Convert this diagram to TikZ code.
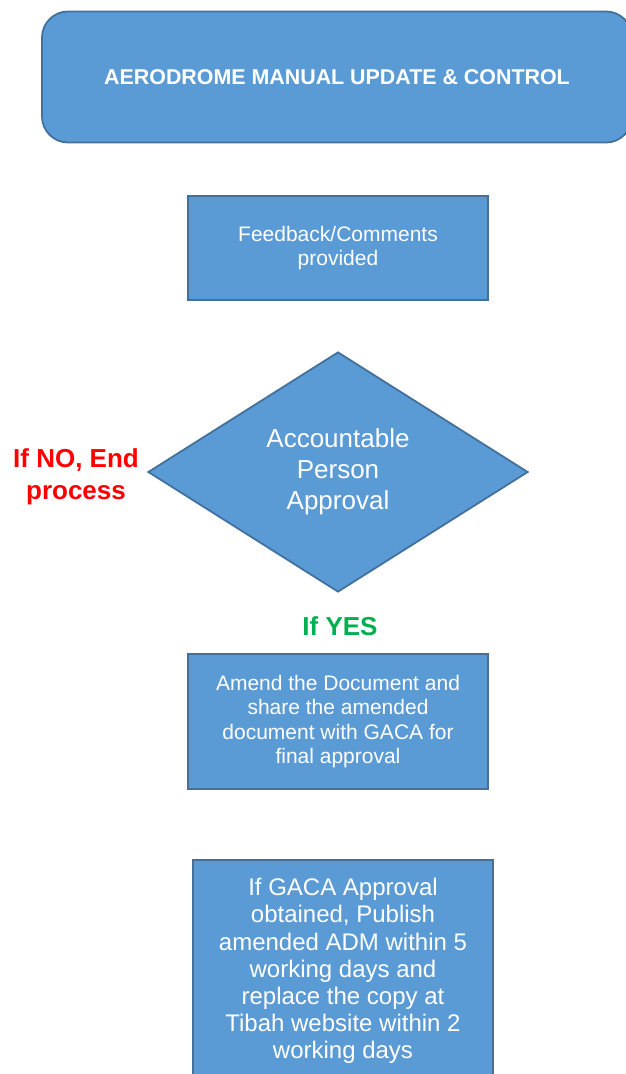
\documentclass[tikz,border=0pt]{standalone}
\usepackage{fontspec}
\setmainfont{Liberation Sans}
\usetikzlibrary{shapes.geometric}
\definecolor{cajaazul}{HTML}{5B9BD5}
\definecolor{bordeazul}{HTML}{41719C}
\definecolor{rojono}{HTML}{FF0000}
\definecolor{verdesi}{HTML}{00B050}
\tikzset{
  caja/.style={draw=bordeazul, line width=1.8pt, fill=cajaazul, text=white,
    align=center, inner sep=0pt},
  decision/.style={diamond, draw=bordeazul, line width=1.8pt, fill=cajaazul,
    text=white, align=center, inner sep=0pt,
    minimum width=380pt, minimum height=240pt,
    font=\fontsize{26}{31}\selectfont},
  rama/.style={font=\fontsize{26}{32}\selectfont\bfseries, align=center}
}
\begin{document}
\begin{tikzpicture}[x=1pt, y=-1pt]
                \useasboundingbox (0,0) rectangle (626,1074);
                \clip (0,0) rectangle (626,1074);
                \fill[white] (0,0) rectangle (626,1074);

                % Titulo
                \node[caja, rounded corners=26pt, minimum width=590pt, minimum height=131pt,
                      font=\fontsize{21.4}{25}\selectfont\bfseries]
                    (titulo) at (337,77) {AERODROME MANUAL UPDATE \& CONTROL};

                % Pasos del proceso
                \node[caja, minimum width=300pt, minimum height=104pt,
                      font=\fontsize{21}{24}\selectfont]
                    (feedback) at (338,248) {Feedback/Comments\\provided};

                \node[decision] (aprobacion) at (338,472) {Accountable\\Person\\Approval};

                \node[caja, minimum width=300pt, minimum height=135pt,
                      font=\fontsize{21}{24.5}\selectfont]
                    (enmienda) at (338,721.5) {Amend the Document and\\share the amended\\document with GACA for\\final approval};

                \node[caja, minimum width=300pt, minimum height=222pt,
                      font=\fontsize{24}{27.2}\selectfont]
                    (publicar) at (343,971) {If GACA Approval\\obtained, Publish\\amended ADM within 5\\working days and\\replace the copy at\\Tibah website within 2\\working days};

                % Etiquetas de las ramas
                \node[rama, text=rojono] (no) at (76,477) {If NO, End\\process};
                \node[rama, text=verdesi] (si) at (340,626) {If YES};
            \end{tikzpicture}
\end{document}
